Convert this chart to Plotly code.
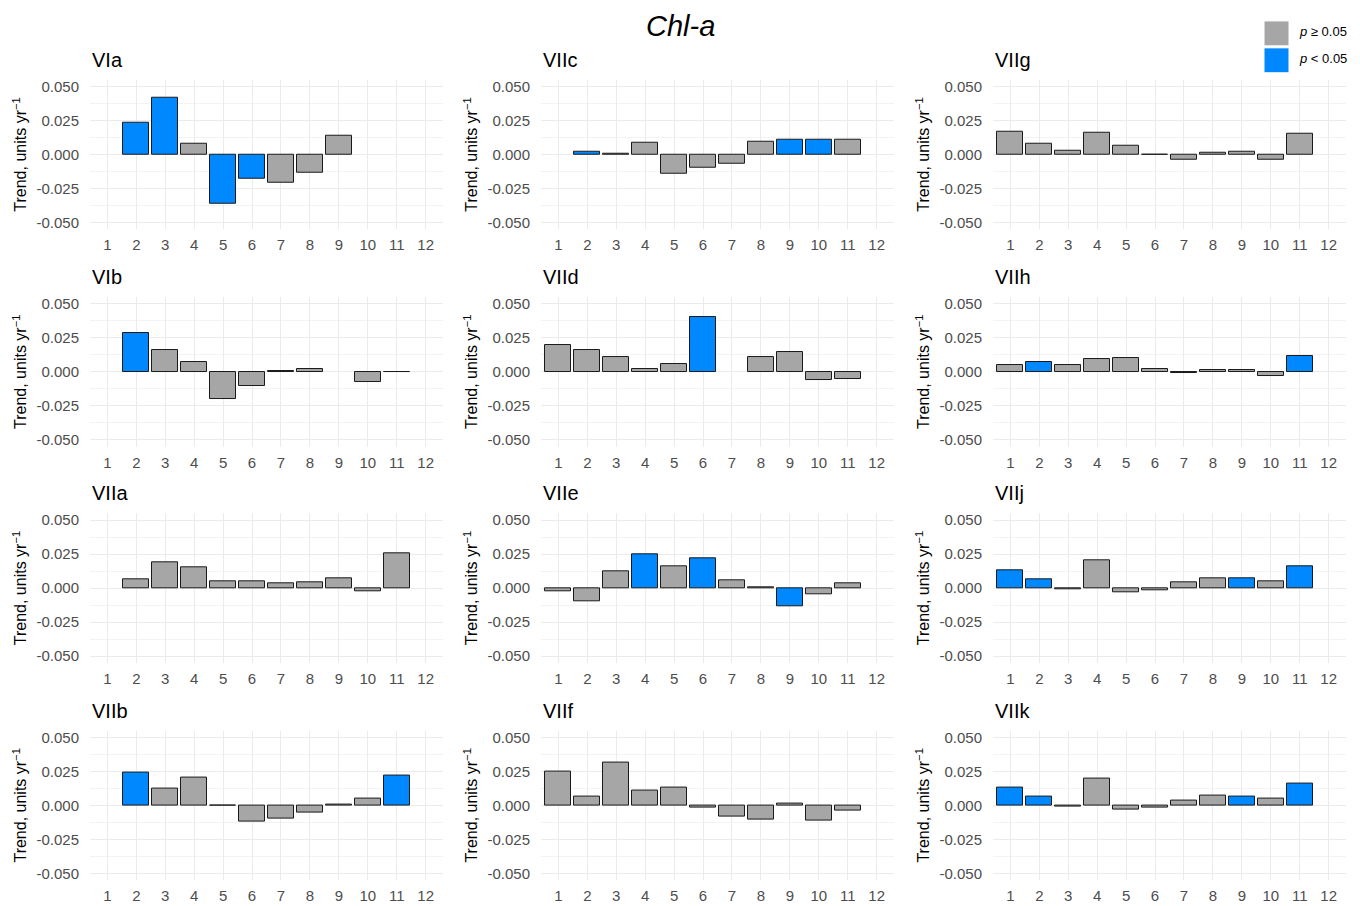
import plotly.graph_objects as go

# ---- data -----------------------------------------------------------------
months = list(range(1, 13))
y_tick_vals = [-0.05, -0.025, 0.0, 0.025, 0.05]
y_tick_text = ["-0.050", "-0.025", "0.000", "0.025", "0.050"]
y_minor_vals = [-0.0375, -0.0125, 0.0125, 0.0375]

# monthly Chl-a trend (units per year); None = no estimate for that month
trend_VIa = [None, 0.0232, 0.0414, 0.0079, -0.0360, -0.0177, -0.0209, -0.0133, 0.0135, None, None, None]
trend_VIIc = [None, 0.0022, 0.0003, 0.0084, -0.0138, -0.0101, -0.0069, 0.0094, 0.0111, 0.0106, 0.0108, None]
trend_VIIg = [0.0171, 0.0082, 0.0030, 0.0163, 0.0067, -0.0005, -0.0040, 0.0015, 0.0020, -0.0037, 0.0153, None]
trend_VIb = [None, 0.0287, 0.0159, 0.0069, -0.0199, -0.0108, 0.0005, 0.0020, None, -0.0078, -0.0003, None]
trend_VIId = [0.0196, 0.0162, 0.0110, 0.0022, 0.0056, 0.0402, None, 0.0105, 0.0142, -0.0064, -0.0054, None]
trend_VIIh = [0.0049, 0.0074, 0.0047, 0.0091, 0.0098, 0.0022, -0.0010, 0.0010, 0.0015, -0.0030, 0.0118, None]
trend_VIIa = [None, 0.0066, 0.0187, 0.0155, 0.0052, 0.0052, 0.0037, 0.0044, 0.0071, -0.0027, 0.0259, None]
trend_VIIe = [-0.0025, -0.0096, 0.0121, 0.0246, 0.0163, 0.0222, 0.0059, 0.0007, -0.0135, -0.0044, 0.0032, None]
trend_VIIj = [0.0133, 0.0064, -0.0012, 0.0202, -0.0032, -0.0015, 0.0039, 0.0071, 0.0069, 0.0052, 0.0160, None]
trend_VIIb = [None, 0.0238, 0.0120, 0.0201, -0.0005, -0.0118, -0.0100, -0.0056, 0.0007, 0.0052, 0.0221, None]
trend_VIIf = [0.0245, 0.0064, 0.0311, 0.0105, 0.0130, -0.0017, -0.0086, -0.0108, 0.0015, -0.0115, -0.0039, None]
trend_VIIk = [0.0132, 0.0066, -0.0012, 0.0196, -0.0032, -0.0017, 0.0034, 0.0071, 0.0066, 0.0047, 0.0157, None]

# 1 = significant trend (p < 0.05), 0 = not significant
sig_VIa = [0, 1, 1, 0, 1, 1, 0, 0, 0, 0, 0, 0]
sig_VIIc = [0, 1, 0, 0, 0, 0, 0, 0, 1, 1, 0, 0]
sig_VIIg = [0, 0, 0, 0, 0, 0, 0, 0, 0, 0, 0, 0]
sig_VIb = [0, 1, 0, 0, 0, 0, 0, 0, 0, 0, 0, 0]
sig_VIId = [0, 0, 0, 0, 0, 1, 0, 0, 0, 0, 0, 0]
sig_VIIh = [0, 1, 0, 0, 0, 0, 0, 0, 0, 0, 1, 0]
sig_VIIa = [0, 0, 0, 0, 0, 0, 0, 0, 0, 0, 0, 0]
sig_VIIe = [0, 0, 0, 1, 0, 1, 0, 0, 1, 0, 0, 0]
sig_VIIj = [1, 1, 0, 0, 0, 0, 0, 0, 1, 0, 1, 0]
sig_VIIb = [0, 1, 0, 0, 0, 0, 0, 0, 0, 0, 1, 0]
sig_VIIf = [0, 0, 0, 0, 0, 0, 0, 0, 0, 0, 0, 0]
sig_VIIk = [1, 1, 0, 0, 0, 0, 0, 0, 1, 0, 1, 0]

panel_names = ["VIa", "VIIc", "VIIg", "VIb", "VIId", "VIIh",
               "VIIa", "VIIe", "VIIj", "VIIb", "VIIf", "VIIk"]
panel_trends = [trend_VIa, trend_VIIc, trend_VIIg, trend_VIb, trend_VIId, trend_VIIh,
                trend_VIIa, trend_VIIe, trend_VIIj, trend_VIIb, trend_VIIf, trend_VIIk]
panel_sigs = [sig_VIa, sig_VIIc, sig_VIIg, sig_VIb, sig_VIId, sig_VIIh,
              sig_VIIa, sig_VIIe, sig_VIIj, sig_VIIb, sig_VIIf, sig_VIIk]

legend_labels = ["<i>p</i> \u2265 0.05", "<i>p</i> < 0.05"]

# ---- styling --------------------------------------------------------------
W, H = 1360, 906
GREY = "#A6A6A6"
BLUE = "#0088FF"
FONT = "Liberation Sans, Arial, sans-serif"
GRID = "#EBEBEB"
MINOR = "#F3F3F3"
TICK_COL = "#4D4D4D"

col_left = [90, 541, 993]
panel_w = 353
row_top = [78, 296, 513, 731]
panel_h = 150


def px_x(x):
    return x / W


def px_y(y):
    return 1 - y / H


fig = go.Figure()
annotations = []

for i, name in enumerate(panel_names):
    r, c = divmod(i, 3)
    ax = "" if i == 0 else str(i + 1)
    colors = [BLUE if s else GREY for s in panel_sigs[i]]
    fig.add_trace(go.Bar(
        x=months, y=panel_trends[i], width=0.9,
        marker=dict(color=colors, line=dict(color="#1A1A1A", width=1)),
        xaxis="x" + ax, yaxis="y" + ax, showlegend=False,
        hovertemplate=name + " month %{x}: %{y:.4f}<extra></extra>",
    ))
    x0, x1 = col_left[c], col_left[c] + panel_w
    y0, y1 = row_top[r], row_top[r] + panel_h
    fig.layout["xaxis" + ax] = dict(
        domain=[px_x(x0), px_x(x1)], anchor="y" + ax,
        range=[0.4, 12.6], tickmode="array", tickvals=months,
        ticktext=[str(m) for m in months],
        showgrid=True, gridcolor=GRID, gridwidth=1.3, zeroline=False,
        showline=False, ticks="outside", ticklen=2, tickcolor="rgba(0,0,0,0)",
        tickfont=dict(family=FONT, size=15, color=TICK_COL), fixedrange=True,
    )
    fig.layout["yaxis" + ax] = dict(
        domain=[px_y(y1), px_y(y0)], anchor="x" + ax,
        range=[-0.055, 0.055], tickmode="array", tickvals=y_tick_vals,
        ticktext=y_tick_text,
        showgrid=True, gridcolor=GRID, gridwidth=1.3, zeroline=False,
        minor=dict(tickmode="array", tickvals=y_minor_vals, showgrid=True,
                   gridcolor=MINOR, gridwidth=0.8, ticks=""),
        showline=False, ticks="outside", ticklen=7, tickcolor="rgba(0,0,0,0)",
        tickfont=dict(family=FONT, size=15, color=TICK_COL),
        title=dict(text="Trend, units yr<sup>\u22121</sup>", standoff=5,
                   font=dict(family=FONT, size=16, color="#000000")),
        fixedrange=True,
    )
    annotations.append(dict(
        text=name, x=px_x(x0), y=px_y(y0 - 20), xref="paper", yref="paper",
        xanchor="left", yanchor="middle", showarrow=False,
        font=dict(family=FONT, size=20, color="#000000"),
    ))

# main title
annotations.append(dict(
    text="<i>Chl-a</i>", x=px_x(680), y=px_y(24), xref="paper", yref="paper",
    xanchor="center", yanchor="middle", showarrow=False,
    font=dict(family=FONT, size=29, color="#000000"),
))

# legend keys
shapes = []
for k, (lab, col) in enumerate(zip(legend_labels, [GREY, BLUE])):
    top = 19 + k * 27
    shapes.append(dict(type="rect", xref="paper", yref="paper",
                       x0=px_x(1264), x1=px_x(1289), y0=px_y(top + 25), y1=px_y(top),
                       fillcolor=col, line=dict(color="#FFFFFF", width=1)))
    annotations.append(dict(
        text=lab, x=px_x(1297), y=px_y(top + 11), xref="paper", yref="paper",
        xanchor="left", yanchor="middle", showarrow=False,
        font=dict(family=FONT, size=13, color="#000000"),
    ))

fig.update_layout(
    width=W, height=H, margin=dict(l=0, r=0, t=0, b=0),
    paper_bgcolor="#FFFFFF", plot_bgcolor="#FFFFFF",
    showlegend=False, annotations=annotations, shapes=shapes,
    bargap=0,
)

fig.write_html("out.html")
